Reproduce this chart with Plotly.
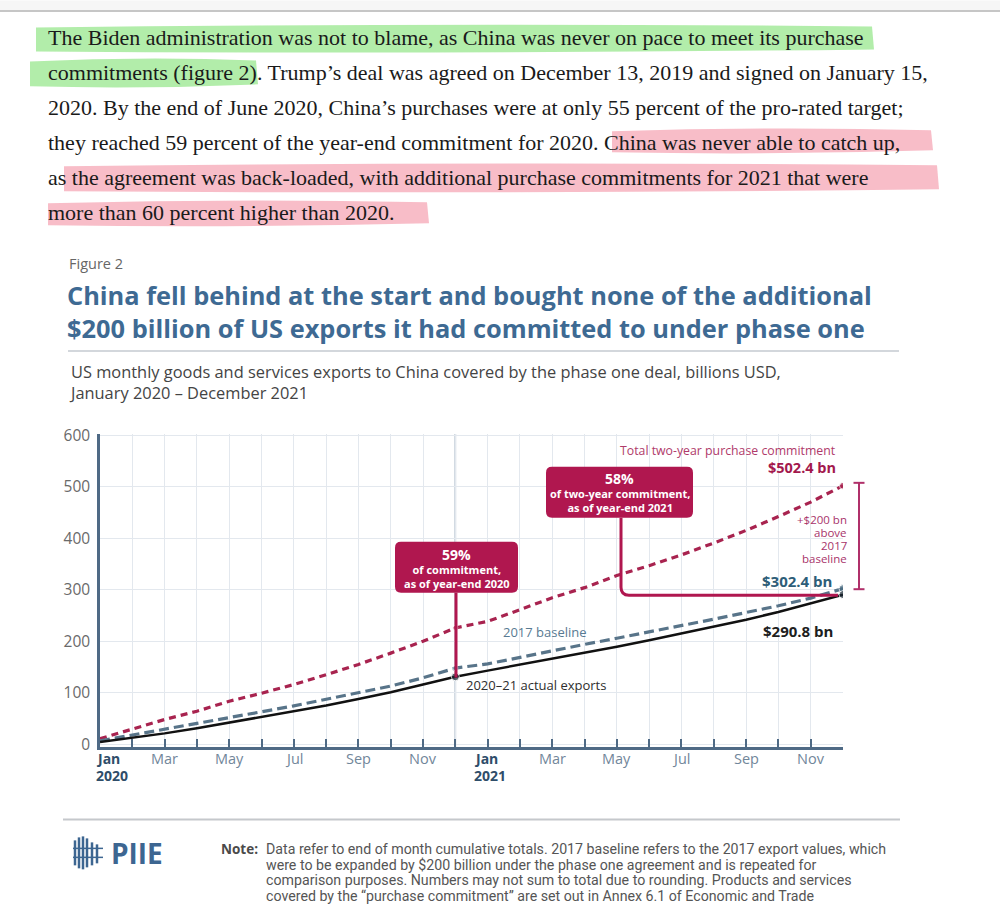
import plotly.graph_objects as go

# ---------------- data ----------------
months = [f"{y}-{m:02d}" for y in (2020, 2021) for m in range(1, 13)]
commitment = [10.5, 29, 48, 64, 83.5, 99, 116, 135, 155, 177, 200, 226,
              238.7, 261.4, 284.7, 304.3, 328, 347, 368, 391, 415.6, 442.5, 470.6, 502.4]
baseline = [6.5, 17.5, 29, 40, 51.5, 63, 74.5, 87, 99.5, 113, 129, 148,
            156, 169, 182, 194, 206, 218, 230, 243, 256, 269, 284, 302.4]
actual = [4, 12, 21, 31, 42, 53, 63, 75, 88, 101, 116, 131,
          143, 154.5, 165.5, 177, 189.5, 202, 215, 228.5, 242, 257, 273.5, 290.8]
month_labels = ["Jan", "", "Mar", "", "May", "", "Jul", "", "Sep", "", "Nov", "",
                "Jan", "", "Mar", "", "May", "", "Jul", "", "Sep", "", "Nov", ""]
y_ticks = [0, 100, 200, 300, 400, 500, 600]

# ---------------- geometry helpers ----------------
W, H = 1000, 904
PL, PR, PT, PB = 100, 843, 434.1, 747.5
YMIN, YMAX = -5.5, 603


def px(x):
    return (x - PL) / (PR - PL)


def py(y):
    return (PB - y) / (PB - PT)


SANS = "Open Sans"
SERIF = "Liberation Serif"
CRIMSON = "#b0174f"
RED_LINE = "#a8234f"
SLATE = "#587489"
AXIS = "#4f6a85"

annotations = []
shapes = []


def T(x, y, text, size, color, anchor="left", family=SANS, weight=None, align=None):
    f = dict(size=size, color=color, family=family)
    if weight:
        f["weight"] = weight
    a = dict(x=px(x), y=py(y), xref="paper", yref="paper", text=text,
             showarrow=False, xanchor=anchor, yanchor="middle", font=f, borderpad=0)
    a["align"] = align or anchor
    annotations.append(a)


def rrect(x0, y0, x1, y1, r, fill):
    p = (f"M {px(x0 + r)},{py(y0)} L {px(x1 - r)},{py(y0)} Q {px(x1)},{py(y0)} {px(x1)},{py(y0 + r)} "
         f"L {px(x1)},{py(y1 - r)} Q {px(x1)},{py(y1)} {px(x1 - r)},{py(y1)} "
         f"L {px(x0 + r)},{py(y1)} Q {px(x0)},{py(y1)} {px(x0)},{py(y1 - r)} "
         f"L {px(x0)},{py(y0 + r)} Q {px(x0)},{py(y0)} {px(x0 + r)},{py(y0)} Z")
    shapes.append(dict(type="path", path=p, xref="paper", yref="paper", fillcolor=fill,
                       line=dict(width=0), layer="above"))


def hl(x0, y0, x1, y1, color):
    # marker-style highlight band
    p = (f"M {px(x0)},{py(y0 + 3)} Q {px((x0 + x1) / 2)},{py(y0 - 2)} {px(x1)},{py(y0 + 2)} "
         f"L {px(x1 + 2)},{py(y1 - 3)} Q {px((x0 + x1) / 2)},{py(y1 + 2)} {px(x0)},{py(y1 - 1)} Z")
    shapes.append(dict(type="path", path=p, xref="paper", yref="paper", fillcolor=color,
                       line=dict(width=0), layer="below"))


def pline(x0, y0, x1, y1, color, width, layer="above"):
    shapes.append(dict(type="line", x0=px(x0), y0=py(y0), x1=px(x1), y1=py(y1), xref="paper",
                       yref="paper", line=dict(color=color, width=width), layer=layer))


# ---------------- figure ----------------
fig = go.Figure()

# Dec 2020 reference line
shapes.append(dict(type="line", xref="x", yref="y", x0=11, x1=11, y0=YMIN, y1=YMAX,
                   line=dict(color="#8fa4b8", width=1.5), layer="below"))

fig.add_trace(go.Scatter(x=months, y=commitment, mode="lines",
                         line=dict(color=RED_LINE, width=3.2, dash="7px,5px"), hoverinfo="skip"))
fig.add_trace(go.Scatter(x=months, y=baseline, mode="lines",
                         line=dict(color=SLATE, width=3.2, dash="10px,5px"), hoverinfo="skip"))
fig.add_trace(go.Scatter(x=months, y=actual, mode="lines",
                         line=dict(color="#111111", width=2.5), hoverinfo="skip"))

# 59% connector (drawn under markers)
pline(456, 593, 456, 678, CRIMSON, 3)

# markers at Dec 2020 / Dec 2021
sel = [11, 23]
fig.add_trace(go.Scatter(x=[months[i] for i in sel], y=[commitment[i] for i in sel], mode="markers",
                         marker=dict(color=RED_LINE, size=[5, 7]), hoverinfo="skip"))
fig.add_trace(go.Scatter(x=[months[i] for i in sel], y=[baseline[i] for i in sel], mode="markers",
                         marker=dict(color="#46697f", size=[5, 8]), hoverinfo="skip"))
fig.add_trace(go.Scatter(x=[months[i] for i in sel], y=[actual[i] for i in sel], mode="markers",
                         marker=dict(color="#1c2a36", size=[8, 8]), hoverinfo="skip"))

# 58% connector with rounded corner
shapes.append(dict(type="path", xref="paper", yref="paper", layer="above",
                   path=(f"M {px(621)},{py(518)} L {px(621)},{py(587.5)} "
                         f"Q {px(621)},{py(595.5)} {px(629)},{py(595.5)} L {px(838)},{py(595.5)}"),
                   line=dict(color=CRIMSON, width=3)))

# callout boxes
rrect(395, 542, 518, 593, 6, CRIMSON)
T(456.5, 554.5, "<b>59%</b>", 14, "white", "center")
T(456.5, 576.5, "<b>of commitment,<br>as of year-end 2020</b>", 11, "white", "center")

rrect(546, 467, 693, 518, 6, CRIMSON)
T(619.5, 479, "<b>58%</b>", 14, "white", "center")
T(619.5, 500.5, "<b>of two-year commitment,<br>as of year-end 2021</b>", 11, "white", "center")

# right-side labels
T(837, 451, "Total two-year purchase commitment", 12.3, "#b03a6a", "right")
T(837, 467.5, "<b>$502.4 bn</b>", 14.5, "#a3184d", "right")
for yy, t in zip([520, 533, 546, 558.5], ["+$200 bn", "above", "2017", "baseline"]):
    T(848, yy, t, 11.5, "#a8336a", "right")
pline(859, 483, 859, 589.5, "#b0306a", 2)
pline(853.5, 483, 864.5, 483, "#b0306a", 2)
pline(853.5, 589.5, 864.5, 589.5, "#b0306a", 2)
T(833, 581.5, "<b>$302.4 bn</b>", 15, "#2d5d78", "right")
T(834, 631, "<b>$290.8 bn</b>", 15, "#1e1e1e", "right")
T(545, 632, "2017 baseline", 13, "#587a92", "center")
T(536, 685, "2020–21 actual exports", 13, "#2e2e2e", "center")

# x-axis labels
for i, lab in enumerate(month_labels):
    if not lab:
        continue
    xpix = PL + (PR - PL) * i / 23
    if i == 0:
        T(95, 759.5, "<b>Jan</b>", 14, "#2f4d69", "left")
        T(95, 776, "<b>2020</b>", 14, "#2f4d69", "left")
    elif i == 12:
        T(473, 759.5, "<b>Jan</b>", 14, "#2f4d69", "left")
        T(473, 776, "<b>2021</b>", 14, "#2f4d69", "left")
    else:
        T(xpix, 759.5, lab, 14.5, "#71869a", "center")

# ---------------- page text (article + figure header/footer) ----------------
# browser bar
shapes.append(dict(type="rect", xref="paper", yref="paper", x0=px(0), x1=px(1000), y0=py(0), y1=py(10),
                   fillcolor="#f6f6f6", line=dict(width=0), layer="below"))
pline(0, 10.5, 1000, 10.5, "#c6c6c6", 2, "below")

GREEN = "rgba(165,234,155,0.85)"
PINK = "rgba(247,178,190,0.85)"
hl(36, 24, 872, 52, GREEN)
hl(30, 58, 256, 87, GREEN)
hl(612, 128, 931, 153, PINK)
hl(64, 163, 937, 192, PINK)
hl(48, 200, 427, 226, PINK)

para = [
    "The Biden administration was not to blame, as China was never on pace to meet its purchase",
    "commitments (figure 2). Trump’s deal was agreed on December 13, 2019 and signed on January 15,",
    "2020. By the end of June 2020, China’s purchases were at only 55 percent of the pro-rated target;",
    "they reached 59 percent of the year-end commitment for 2020. China was never able to catch up,",
    "as the agreement was back-loaded, with additional purchase commitments for 2021 that were",
    "more than 60 percent higher than 2020.",
]
for k, line in enumerate(para):
    T(47, 37 + 35 * k, line, 22, "#1a1a1a", "left", SERIF)

T(68, 263, "Figure 2", 14.5, "#666666", "left")
T(66, 311, "<b>China fell behind at the start and bought none of the additional<br>"
  "$200 billion of US exports it had committed to under phase one</b>", 25.4, "#3e6a93", "left")
pline(68, 351, 899, 351, "#c5cad1", 1.5, "below")
T(68, 382, "US monthly goods and services exports to China covered by the phase one deal, billions USD,"
  "<br>January 2020 – December 2021", 16.4, "#444444", "left", SANS, 500)

# footer
pline(63, 820, 900, 820, "#c5c8cc", 2, "below")
LOGO = "#3d6691"
for xx, y0, y1 in [(75, 841, 866), (79, 838, 869), (83, 837, 870), (87, 839, 868), (92, 843, 866), (97, 845, 864)]:
    pline(xx, y0, xx, y1, LOGO, 2.5)
pline(73, 849, 103, 849, LOGO, 1.5)
pline(73, 858, 103, 858, LOGO, 1.5)
T(110, 854, "<b>PIIE</b>", 28, LOGO, "left")
T(220, 850, "<b>Note:</b>", 13.5, "#4a4a4a", "left")
notes = [
    "Data refer to end of month cumulative totals. 2017 baseline refers to the 2017 export values, which",
    "were to be expanded by $200 billion under the phase one agreement and is repeated for",
    "comparison purposes. Numbers may not sum to total due to rounding. Products and services",
    "covered by the “purchase commitment” are set out in Annex 6.1 of Economic and Trade",
]
for k, line in enumerate(notes):
    T(265, 850 + 15.5 * k, line, 14.2, "#555555", "left", "Roboto")

fig.update_layout(
    width=W, height=H,
    margin=dict(l=PL, r=W - PR, t=PT, b=H - PB, pad=0),
    paper_bgcolor="white", plot_bgcolor="white",
    showlegend=False,
    annotations=annotations, shapes=shapes,
    font=dict(family=SANS),
    xaxis=dict(type="category", categoryorder="array", categoryarray=months,
               range=[0, 23], tickvals=months, ticktext=[""] * 24,
               showgrid=True, gridcolor="#e3e8ee", gridwidth=1,
               showline=True, linecolor=AXIS, linewidth=2.5,
               ticks="inside", ticklen=8, tickwidth=2, tickcolor=AXIS,
               zeroline=False, fixedrange=True),
    yaxis=dict(range=[YMIN, YMAX], tickvals=y_ticks, showgrid=True, gridcolor="#e3e8ee",
               gridwidth=1, showline=True, linecolor=AXIS, linewidth=2.5, ticks="",
               tickfont=dict(size=15.5, color="#6a6a6a", family=SANS), ticklabelstandoff=4,
               zeroline=False, fixedrange=True),
)

fig.write_html("out.html", config={"displayModeBar": False},
               post_script="document.body.style.margin='0';document.body.style.overflow='hidden';")
